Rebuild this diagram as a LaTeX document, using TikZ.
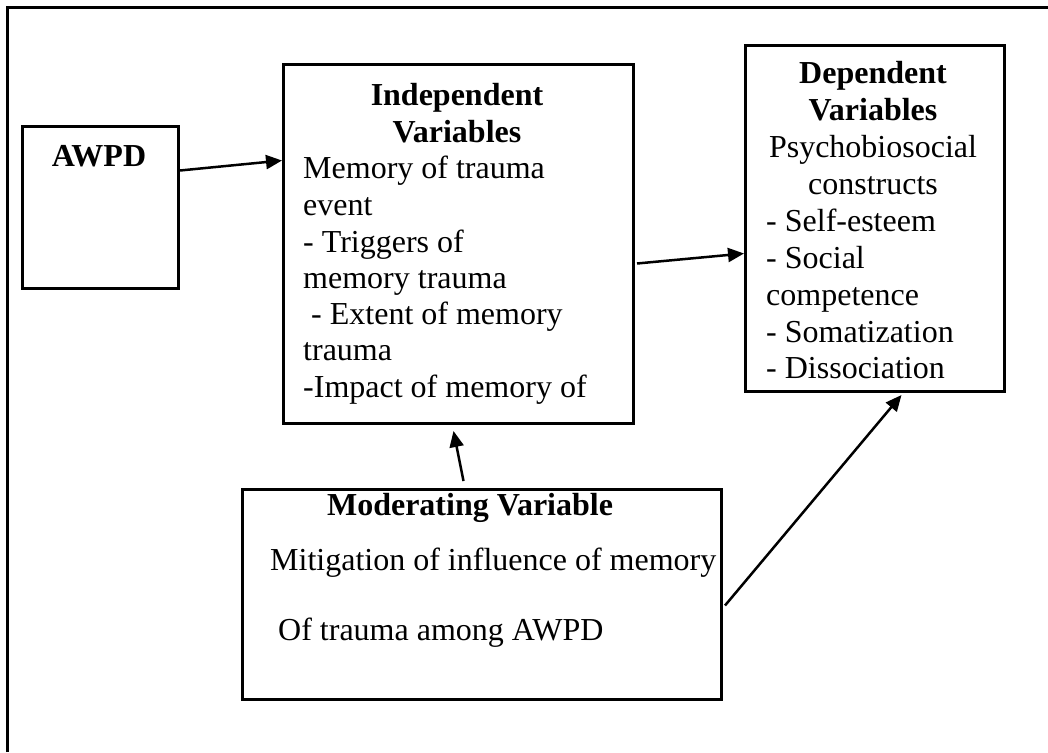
\documentclass[tikz,border=0pt]{standalone}
\usepackage{fontspec}
\setmainfont{Liberation Serif}
\usetikzlibrary{arrows.meta}
\begin{document}
\begin{tikzpicture}[x=1pt,y=-1pt,
  frame/.style={draw=black,line width=3pt},
  boxnode/.style={draw=black,line width=3pt,inner sep=0pt,anchor=north west},
  txt/.style={inner sep=0pt,font=\fontsize{32}{36.8}\selectfont},
  btxt/.style={inner sep=0pt,font=\fontsize{32}{36.8}\selectfont\bfseries},
  arr/.style={line width=2.5pt,-{Triangle[length=16pt,width=14pt]}}]
\useasboundingbox (0,0) rectangle (1048,752);
% outer frame (cropped at right and bottom)
\draw[frame] (7,752) -- (7,8) -- (1048,8);
% boxes
\node[boxnode,minimum width=156pt,minimum height=162pt] (awpd) at (21,125) {};
\node[boxnode,minimum width=350pt,minimum height=359pt] (indep) at (282,63) {};
\node[boxnode,minimum width=259pt,minimum height=346pt] (dep) at (744,44) {};
\node[boxnode,minimum width=479pt,minimum height=210pt] (mod) at (241,488) {};
% texts
\node[btxt,anchor=base] (awpdt) at (99,166) {AWPD};
\node[btxt,anchor=base] (indt1) at (457,105) {Independent};
\node[btxt,anchor=base] (indt2) at (457,142) {Variables};
\node[txt,anchor=base west] (indb1) at (303,178) {Memory of trauma};
\node[txt,anchor=base west] (indb2) at (303,215) {event};
\node[txt,anchor=base west] (indb3) at (303,252) {- Triggers of};
\node[txt,anchor=base west] (indb4) at (303,288) {memory trauma};
\node[txt,anchor=base west] (indb5) at (311,324) {- Extent of memory};
\node[txt,anchor=base west] (indb6) at (303,360) {trauma};
\node[txt,anchor=base west] (indb7) at (303,397) {-Impact of memory of};
\node[btxt,anchor=base] (dept1) at (873,83) {Dependent};
\node[btxt,anchor=base] (dept2) at (873,120) {Variables};
\node[txt,anchor=base] (depb1) at (873,157) {Psychobiosocial};
\node[txt,anchor=base] (depb2) at (873,194) {constructs};
\node[txt,anchor=base west] (depb3) at (766,231) {- Self-esteem};
\node[txt,anchor=base west] (depb4) at (766,268) {- Social};
\node[txt,anchor=base west] (depb5) at (766,305) {competence};
\node[txt,anchor=base west] (depb6) at (766,342) {- Somatization};
\node[txt,anchor=base west] (depb7) at (766,378) {- Dissociation};
\node[btxt,anchor=base] (modt) at (470,515) {Moderating Variable};
\node[txt,anchor=base west] (modb1) at (270,570) {Mitigation of influence of memory};
\node[txt,anchor=base west] (modb2) at (278,640) {Of trauma among AWPD};
% connectors
\draw[arr] ([yshift=37pt]awpd.east) -- ([yshift=83.5pt]indep.west);
\draw[arr] ([xshift=2pt,yshift=-19.5pt]indep.east) -- ([yshift=-35pt]dep.west);
\draw[arr] ([xshift=-18.5pt,yshift=7pt]mod.north) -- ([xshift=-5pt,yshift=-6pt]indep.south);
\draw[arr] ([xshift=2pt,yshift=-11pt]mod.east) -- ([xshift=26.5pt,yshift=-2pt]dep.south);
\end{tikzpicture}
\end{document}
